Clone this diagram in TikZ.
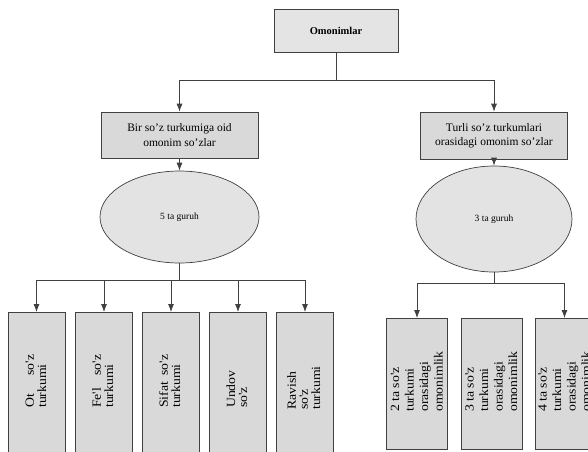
\documentclass[tikz,border=0pt]{standalone}
\usepackage{fontspec}
\setmainfont{Liberation Serif}
\newfontfamily\stretchfont[FakeStretch=1.1]{Liberation Serif}
\usetikzlibrary{arrows.meta,shapes.geometric}
\definecolor{boxfill}{HTML}{D9D9D9}
\definecolor{ellfill}{HTML}{E3E3E3}
\definecolor{topfill}{HTML}{E4E4E4}
\definecolor{edge}{HTML}{404040}
\newcommand{\vlines}[2]{\rotatebox{90}{\stretchfont\fontsize{12.5}{#1}\selectfont\begin{tabular}{@{}l@{}}#2\end{tabular}}}
\begin{document}
\begin{tikzpicture}[x=1pt,y=-1pt,
  line/.style={draw=edge, line width=0.8pt},
  arr/.style={line, -{Latex[length=8pt,width=6pt]}},
  boxstyle/.style={draw=edge, line width=0.7pt, fill=boxfill, inner sep=0pt},
  hbox/.style={boxstyle, align=center, font=\fontsize{11.5}{14.5}\selectfont},
  ell/.style={ellipse, draw=edge, line width=0.7pt, fill=ellfill, inner sep=0pt, font=\fontsize{9.5}{11}\selectfont},
  vbox/.style={boxstyle, minimum width=57pt, minimum height=150pt},
  rbox/.style={boxstyle, minimum width=61pt, minimum height=131pt},
  vtxt/.style={inner sep=0pt, anchor=south}
]
\useasboundingbox (0,0) rectangle (588,451);
\clip (0,0) rectangle (588,451);
\fill[white] (0,0) rectangle (588,451);

% top
\node[boxstyle, fill=topfill, minimum width=124pt, minimum height=43pt, font=\fontsize{10.5}{12}\selectfont\bfseries] (T) at (336,30.5) {Omonimlar};
\coordinate (J0) at (336,80);

% second level
\node[hbox, minimum width=157pt, minimum height=46pt] (B1) at (179.5,135) {Bir so'z turkumiga oid\\omonim so'zlar};
\node[hbox, minimum width=147pt, minimum height=47pt] (B2) at (494,135.5) {Turli so'z turkumlari\\orasidagi omonim so'zlar};

% ellipses
\node[ell, minimum width=159pt, minimum height=92pt] (E1) at (179.5,217) {5 ta guruh};
\node[ell, minimum width=156pt, minimum height=106pt] (E2) at (494,219) {3 ta guruh};

% left bottom boxes
\node[vbox, anchor=north] (L1) at (36.5,312) {};
\node[vbox, anchor=north] (L2) at (104,312) {};
\node[vbox, anchor=north] (L3) at (171,312) {};
\node[vbox, anchor=north] (L4) at (238,312) {};
\node[vbox, anchor=north] (L5) at (305,312) {};

\node[vtxt] (tl1) at (37.5,408) {\vlines{12}{\makebox[53pt][s]{Ot so'z}\\turkumi}};
\node[vtxt] (tl2) at (104.5,408) {\vlines{12}{\makebox[53pt][s]{Fe'l so'z}\\turkumi}};
\node[vtxt] (tl3) at (171.5,408) {\vlines{12}{\makebox[53pt][s]{Sifat so'z}\\turkumi}};
\node[vtxt] (tl4) at (238.5,408) {\vlines{12}{Undov\\so'z}};
\node[vtxt] (tl5) at (305.5,410) {\vlines{12}{Ravish\\so'z\\turkumi}};

% right bottom boxes
\node[rbox, anchor=north] (R1) at (417,318) {};
\node[rbox, anchor=north] (R2) at (491.5,318) {};
\node[rbox, anchor=north, minimum width=59pt] (R3) at (564.5,318) {};

\node[vtxt] (tr1) at (418,412) {\vlines{14.5}{2 ta so'z\\turkumi\\orasidagi\\omonimlik}};
\node[vtxt] (tr2) at (492.5,412) {\vlines{14.5}{3 ta so'z\\turkumi\\orasidagi\\omonimlik}};
\node[vtxt] (tr3) at (565.5,412) {\vlines{14.5}{4 ta so'z\\turkumi\\orasidagi\\omonimlik}};

% connectors
\draw[line] (T.south) -- (J0);
\draw[arr] (J0) -| (B1.north);
\draw[arr] (J0) -| (B2.north);
\draw[arr] (B1.south) -- (E1.north);
\draw[arr] (B2.south) -- (E2.north);

\coordinate (J1) at (179.5,280);
\draw[line] (E1.south) -- (J1);
\foreach \n in {L1,L2,L3,L4,L5} \draw[arr] (J1) -| (\n.north);

\coordinate (J2) at (494,283);
\draw[line] (E2.south) -- (J2);
\draw[arr] (J2) -| (R1.north);
\draw[arr] (J2) -| (R3.north);
\end{tikzpicture}
\end{document}
